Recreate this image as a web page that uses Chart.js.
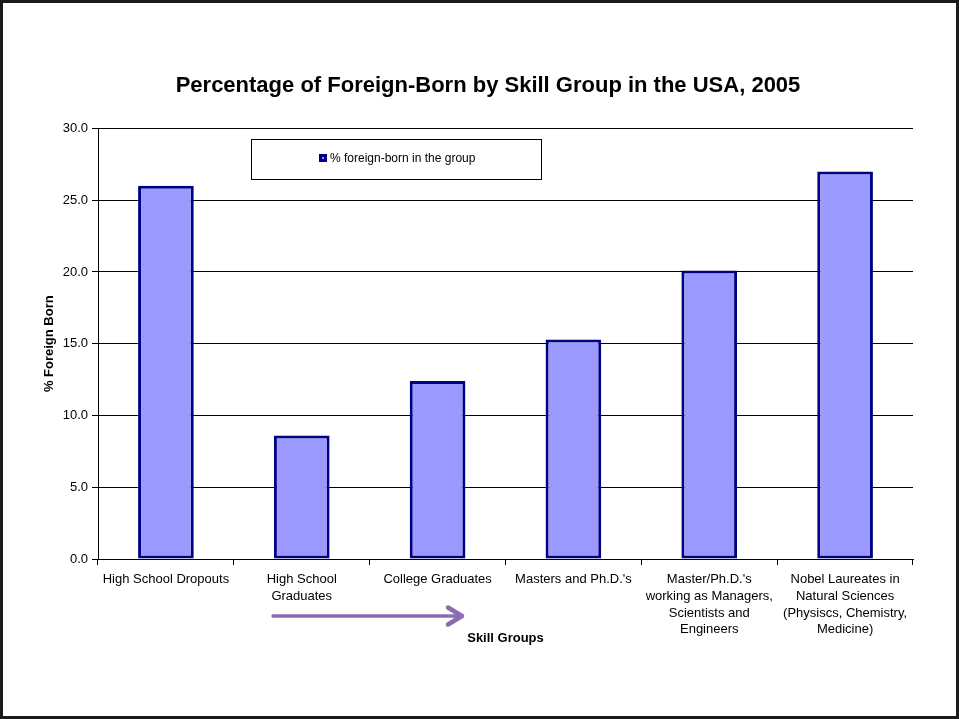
<!DOCTYPE html>
<html>
<head>
<meta charset="utf-8">
<title>Percentage of Foreign-Born by Skill Group in the USA, 2005</title>
<script src="https://cdn.jsdelivr.net/npm/chart.js@4"></script>
<style>
  html, body { margin: 0; padding: 0; background: #ffffff; }
  #wrap { position: relative; width: 959px; height: 719px; }
  canvas { display: block; }
</style>
</head>
<body>
<div id="wrap"><canvas id="chart" width="959" height="719"></canvas></div>
<script>
// Skill groups (multi-line category labels)
const categories = [
  ['High School Dropouts'],
  ['High School', 'Graduates'],
  ['College Graduates'],
  ['Masters and Ph.D.\'s'],
  ['Master/Ph.D.\'s', 'working as Managers,', 'Scientists and', 'Engineers'],
  ['Nobel Laureates in', 'Natural Sciences', '(Physiscs, Chemistry,', 'Medicine)']
];
// Share of foreign-born in each group, in percent
const foreignBornPct = [26.0, 8.6, 12.4, 15.3, 20.1, 27.0];
const seriesLabel = '% foreign-born in the group';
const yTicks = [0, 5, 10, 15, 20, 25, 30];

const FONT = '"Liberation Sans", Arial, Helvetica, sans-serif';
const FILL = '#9999ff';
const EDGE = '#000080';

// Page frame, legend box, the rising-skill arrow and the axis caption
const decorations = {
  id: 'decorations',
  beforeDraw(chart) {
    const { ctx, width, height } = chart;
    ctx.save();
    ctx.fillStyle = '#ffffff';
    ctx.fillRect(0, 0, width, height);
    ctx.restore();
  },
  afterDraw(chart) {
    const { ctx, width, height, chartArea } = chart;
    ctx.save();

    // outer frame
    ctx.strokeStyle = '#1a1a1a';
    ctx.lineWidth = 3;
    ctx.strokeRect(1.5, 1.5, width - 3, height - 3);

    // legend box
    ctx.fillStyle = '#ffffff';
    ctx.fillRect(251.5, 139.5, 290, 40);
    ctx.strokeStyle = '#000000';
    ctx.lineWidth = 1;
    ctx.strokeRect(251.5, 139.5, 290, 40);
    ctx.fillStyle = EDGE;
    ctx.fillRect(319, 154, 8, 8);
    ctx.fillStyle = FILL;
    ctx.fillRect(322, 157, 2, 2);
    ctx.fillStyle = '#000000';
    ctx.font = '12px ' + FONT;
    ctx.textBaseline = 'middle';
    ctx.textAlign = 'left';
    ctx.fillText(seriesLabel, 330, 158.5);

    // arrow
    ctx.strokeStyle = '#8a6cb0';
    ctx.lineCap = 'round';
    ctx.lineJoin = 'round';
    ctx.lineWidth = 3.5;
    ctx.beginPath();
    ctx.moveTo(273, 616);
    ctx.lineTo(460, 616);
    ctx.stroke();
    ctx.lineWidth = 4.5;
    ctx.beginPath();
    ctx.moveTo(448, 607.5);
    ctx.lineTo(462, 616);
    ctx.lineTo(448, 624.5);
    ctx.stroke();

    // x axis caption
    ctx.fillStyle = '#000000';
    ctx.font = 'bold 13px ' + FONT;
    ctx.textAlign = 'center';
    ctx.textBaseline = 'middle';
    ctx.fillText('Skill Groups', (chartArea.left + chartArea.right) / 2, 638);

    ctx.restore();
  }
};

new Chart(document.getElementById('chart'), {
  type: 'bar',
  data: {
    labels: categories,
    datasets: [{
      label: seriesLabel,
      data: foreignBornPct,
      backgroundColor: FILL,
      borderColor: EDGE,
      borderWidth: 3,
      borderSkipped: false,
      categoryPercentage: 1.0,
      barPercentage: 0.41
    }]
  },
  options: {
    responsive: false,
    animation: false,
    devicePixelRatio: 1,
    layout: { padding: { left: 63, right: 46, top: 0, bottom: 0 } },
    plugins: {
      legend: { display: false },
      tooltip: { enabled: false },
      title: {
        display: true,
        text: 'Percentage of Foreign-Born by Skill Group in the USA, 2005',
        color: '#000000',
        font: { family: FONT, size: 22, weight: 'bold' },
        padding: { top: 73, bottom: 29 }
      }
    },
    scales: {
      x: {
        offset: true,
        grid: {
          offset: true,
          drawOnChartArea: false,
          drawTicks: true,
          tickLength: 6,
          color: '#000000'
        },
        border: { color: '#000000', width: 1 },
        ticks: {
          color: '#000000',
          font: { family: FONT, size: 13, lineHeight: 1.29 },
          padding: 6,
          maxRotation: 0,
          autoSkip: false
        },
        afterFit(scale) { scale.height = 160; }
      },
      y: {
        min: 0,
        max: 30,
        afterBuildTicks(scale) { scale.ticks = yTicks.map(v => ({ value: v })); },
        grid: {
          color: '#000000',
          lineWidth: 1,
          drawTicks: true,
          tickLength: 6
        },
        border: { color: '#000000', width: 1 },
        ticks: {
          color: '#000000',
          font: { family: FONT, size: 13 },
          padding: 4,
          callback: v => Number(v).toFixed(1)
        },
        title: {
          display: true,
          text: '% Foreign Born',
          color: '#000000',
          font: { family: FONT, size: 13, weight: 'bold' },
          padding: { top: -21, bottom: 0 }
        },
        afterFit(scale) { scale.width = 35; }
      }
    }
  },
  plugins: [decorations]
});
</script>
</body>
</html>
